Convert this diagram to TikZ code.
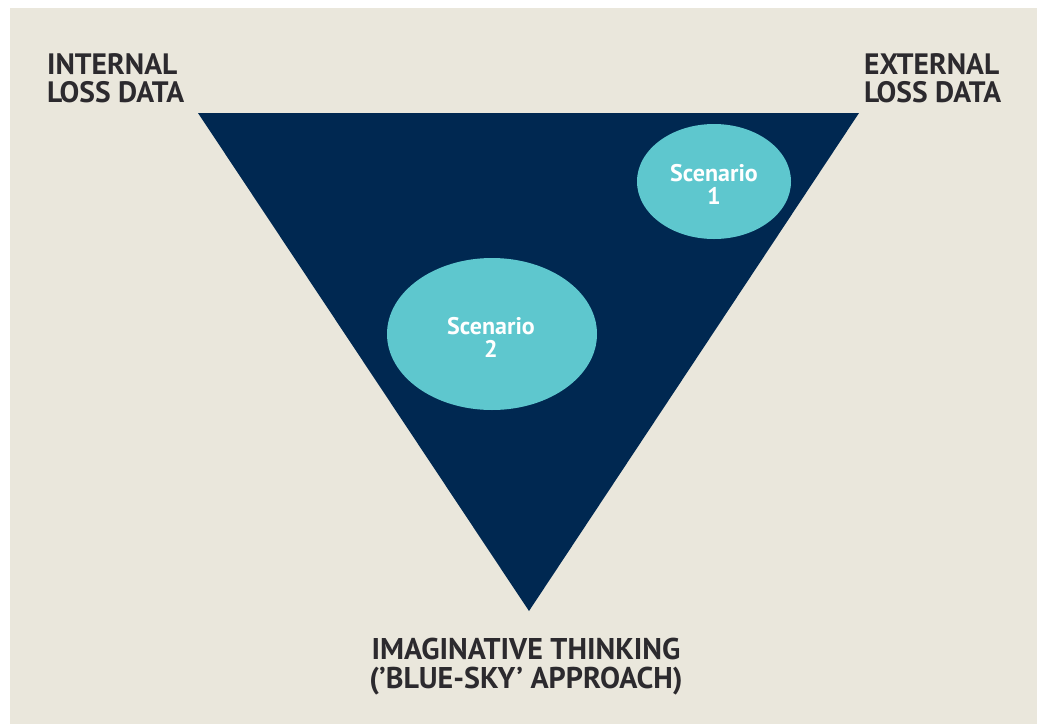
\documentclass[tikz,border=0pt]{standalone}
\usepackage{fontspec}
\setmainfont{PT Sans}
\usetikzlibrary{shapes.geometric}
\definecolor{bgbeige}{HTML}{EAE7DC}
\definecolor{navy}{HTML}{002851}
\definecolor{cyanfill}{HTML}{5EC7CE}
\definecolor{labelgrey}{HTML}{2C2A2E}
\tikzset{
  corner/.style={font=\bfseries\fontsize{29.5}{28.5}\selectfont, text=labelgrey, align=left, inner sep=0pt},
  bottomlabel/.style={font=\bfseries\fontsize{30}{29}\selectfont, text=labelgrey, align=center, inner sep=0pt},
  scen/.style={ellipse, fill=cyanfill, draw=none, inner sep=0pt},
  scentext/.style={font=\bfseries\fontsize{24}{23}\selectfont, text=white, align=center, inner sep=0pt},
}
\begin{document}
\begin{tikzpicture}[x=1pt,y=-1pt]
\useasboundingbox (0,0) rectangle (1037,724);
\fill[white] (0,0) rectangle (1037,724);
\fill[bgbeige] (10,8) rectangle (1037,724);
\coordinate (tl) at (198,113);
\coordinate (tr) at (859,113);
\coordinate (bt) at (529,611);
\fill[navy] (tl) -- (tr) -- (bt) -- cycle;
\node[scen, minimum width=154pt, minimum height=115pt] (s1) at (714,181.5) {};
\node[scen, minimum width=210pt, minimum height=152pt] (s2) at (492,334) {};
\node[scentext, anchor=base] (s1t) at (714,204) {Scenario\\1};
\node[scentext, anchor=base] (s2t) at (491,357) {Scenario\\2};
\node[corner, anchor=base west] (int) at (47,102.5) {INTERNAL\\LOSS DATA};
\node[corner, anchor=base west] (ext) at (864,102.5) {EXTERNAL\\LOSS DATA};
\node[bottomlabel, anchor=base] (imag) at (526,688) {IMAGINATIVE THINKING\\(’BLUE-SKY’ APPROACH)};
\end{tikzpicture}
\end{document}
